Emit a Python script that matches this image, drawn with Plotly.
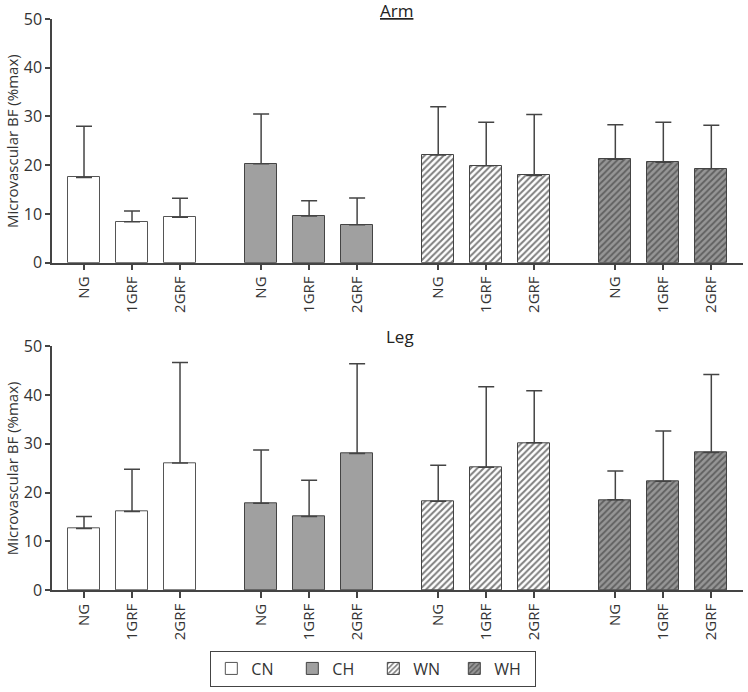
import plotly.graph_objects as go

groups = ["CN", "CH", "WN", "WH"]
conditions = ["NG", "1GRF", "2GRF"]

arm_mean = {
    "CN": [17.5, 8.4, 9.3],
    "CH": [20.3, 9.6, 7.8],
    "WN": [22.1, 19.9, 17.9],
    "WH": [21.2, 20.6, 19.3],
}
arm_top = {
    "CN": [28.0, 10.6, 13.2],
    "CH": [30.5, 12.7, 13.3],
    "WN": [32.0, 28.8, 30.4],
    "WH": [28.3, 28.8, 28.2],
}
leg_mean = {
    "CN": [12.6, 16.1, 26.05],
    "CH": [17.8, 15.1, 28.0],
    "WN": [18.2, 25.2, 30.2],
    "WH": [18.5, 22.3, 28.2],
}
leg_top = {
    "CN": [15.1, 24.8, 46.7],
    "CH": [28.7, 22.5, 46.4],
    "WN": [25.6, 41.7, 40.9],
    "WH": [24.4, 32.6, 44.2],
}

group_offset = 3.69
styles = {
    "CN": dict(color="white", line=dict(color="#555", width=1)),
    "CH": dict(color="#a0a0a0", line=dict(color="#444", width=1)),
    "WN": dict(color="white", line=dict(color="#444", width=1),
               pattern=dict(shape="/", fgcolor="#000", bgcolor="white", size=4.5, solidity=0.45)),
    "WH": dict(color="#959595", line=dict(color="#444", width=1),
               pattern=dict(shape="/", fgcolor="#2a2a2a", bgcolor="#969696", size=4.5, solidity=0.4)),
}

fig = go.Figure()
tickvals, ticktext = [], []
for gi, g in enumerate(groups):
    xs = [gi * group_offset + i for i in range(3)]
    tickvals += xs
    ticktext += conditions
    for panel, (means, tops, xa, ya) in enumerate([(arm_mean, arm_top, "x", "y"), (leg_mean, leg_top, "x2", "y2")]):
        m = means[g]
        t = tops[g]
        fig.add_trace(go.Bar(
            x=xs, y=m, width=0.67, xaxis=xa, yaxis=ya,
            marker=styles[g], name=g, showlegend=(panel == 0), legendgroup=g,
            error_y=dict(type="data", symmetric=False,
                         array=[tt - mm for tt, mm in zip(t, m)],
                         arrayminus=[0, 0, 0], color="#444", thickness=1.5, width=8),
        ))

font = "Open Sans"
xcommon = dict(range=[-0.667, 13.73], tickvals=tickvals, ticktext=ticktext, tickangle=-90,
               showline=True, linecolor="#444", linewidth=1.5, ticks="outside", ticklen=6,
               tickcolor="#444", tickwidth=1.5, showgrid=False, zeroline=False,
               tickfont=dict(family=font, size=15, color="#333"))
ycommon = dict(range=[0, 50], dtick=10, showline=True, linecolor="#444", linewidth=1.5,
               ticks="outside", ticklen=5, tickcolor="#444", tickwidth=1.5, showgrid=False,
               zeroline=False, tickfont=dict(family=font, size=16, color="#333"))

fig.update_layout(
    width=748, height=692,
    margin=dict(l=52, r=5, t=19, b=99),
    plot_bgcolor="white", paper_bgcolor="white",
    bargap=0,
    xaxis=dict(**xcommon, domain=[0, 1], anchor="y"),
    yaxis=dict(**ycommon, domain=[0.5732, 1], anchor="x"),
    xaxis2=dict(**xcommon, domain=[0, 1], anchor="y2"),
    yaxis2=dict(**ycommon, domain=[0, 0.4268], anchor="x2"),
    showlegend=True,
    legend=dict(orientation="h", x=0.465, xanchor="center", y=-0.106, yanchor="top",
                bordercolor="#444", borderwidth=1, bgcolor="white",
                font=dict(family=font, size=16, color="#333"),
                entrywidth=36, itemwidth=30, traceorder="normal"),
    annotations=[
        dict(text="<u>Arm</u>", x=0.499, y=1.0157, xref="paper", yref="paper", showarrow=False,
             xanchor="center", yanchor="middle", font=dict(family=font, size=17, color="#222")),
        dict(text="Leg", x=0.504, y=0.444, xref="paper", yref="paper", showarrow=False,
             xanchor="center", yanchor="middle", font=dict(family=font, size=17, color="#222")),
        dict(text="Microvascular BF (%max)", x=-0.058, y=0.786, xref="paper", yref="paper",
             xanchor="center", yanchor="middle",
             showarrow=False, textangle=-90, font=dict(family=font, size=15, color="#333")),
        dict(text="Microvascular BF (%max)", x=-0.058, y=0.213, xref="paper", yref="paper",
             xanchor="center", yanchor="middle",
             showarrow=False, textangle=-90, font=dict(family=font, size=15, color="#333")),
    ],
)

fig.write_html("out.html")
